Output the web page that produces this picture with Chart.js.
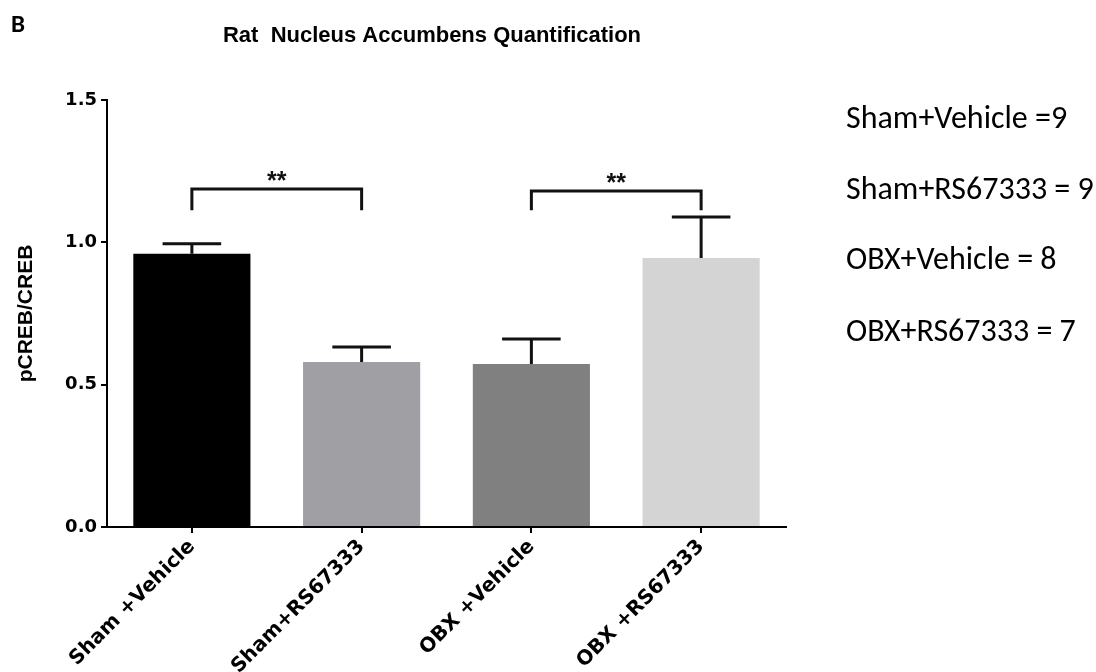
<!DOCTYPE html>
<html>
<head>
<meta charset="utf-8">
<title>Rat Nucleus Accumbens Quantification</title>
<script src="https://cdn.jsdelivr.net/npm/chart.js@4.4.1/dist/chart.umd.min.js"></script>
<style>
    html, body { margin: 0; padding: 0; background: #fff; overflow: hidden; }
    #wrap { position: relative; width: 1096px; height: 672px; }
    #chartBox { position: absolute; left: 0; top: 0; width: 1096px; height: 672px; }
    .panel { position: absolute; left: 11px; top: 8px; font: bold 25px Carlito, Lato, sans-serif; color: #000; }
    .nlist div { position: absolute; left: 846px; white-space: nowrap; line-height: 1;
                 font: 32px Carlito, Lato, sans-serif; color: #000; transform: translateY(-50%); }
</style>
</head>
<body>
<div id="wrap">
    <div id="chartBox"><canvas id="accumbensChart"></canvas></div>
    <div class="panel">B</div>
    <div class="nlist" id="nList"></div>
</div>
<script>
// data
const groups = ['Sham +Vehicle', 'Sham+RS67333', 'OBX +Vehicle', 'OBX +RS67333'];
const meanRatio = [0.96, 0.58, 0.573, 0.945];
const semRatio = [0.035, 0.052, 0.087, 0.144];
const barColors = ['#000000', '#a09fa4', '#808080', '#d4d4d4'];
const yTicks = [0, 0.5, 1.0, 1.5];
const sigPairs = [[0, 1], [2, 3]];
const sigTop = [1.187, 1.18];
const sigLeg = [1.113, 1.113];
const sigLabels = ['**', '**'];
const groupN = ['Sham+Vehicle =9', 'Sham+RS67333 = 9', 'OBX+Vehicle = 8', 'OBX+RS67333 = 7'];
const chartTitle = 'Rat  Nucleus Accumbens Quantification';

document.addEventListener('DOMContentLoaded', function() {
    "use strict";

    // group sizes on the right
    const nList = document.getElementById('nList');
    const nTop = [117, 188, 258, 330];
    groupN.forEach(function(txt, i) {
        const d = document.createElement('div');
        d.textContent = txt;
        d.style.top = nTop[i] + 'px';
        nList.appendChild(d);
    });

    // title over the plot
    const headerTitle = {
        id: 'headerTitle',
        afterDraw(chart) {
            const ctx = chart.ctx;
            ctx.save();
            ctx.font = 'bold 22px "Liberation Sans", Arial, sans-serif';
            ctx.fillStyle = '#000';
            ctx.textAlign = 'center';
            ctx.textBaseline = 'middle';
            ctx.fillText(chartTitle, 432, 36);
            ctx.restore();
        }
    };

    // upper SEM bars
    const errorBars = {
        id: 'errorBars',
        afterDatasetsDraw(chart) {
            const ctx = chart.ctx;
            const y = chart.scales.y;
            const meta = chart.getDatasetMeta(0);
            ctx.save();
            ctx.strokeStyle = '#111';
            ctx.lineWidth = 3;
            meta.data.forEach(function(bar, i) {
                const yMean = y.getPixelForValue(meanRatio[i]);
                const yTop = y.getPixelForValue(meanRatio[i] + semRatio[i]);
                const half = bar.width * 0.25;
                ctx.beginPath();
                ctx.moveTo(bar.x, yMean);
                ctx.lineTo(bar.x, yTop);
                ctx.moveTo(bar.x - half, yTop);
                ctx.lineTo(bar.x + half, yTop);
                ctx.stroke();
            });
            ctx.restore();
        }
    };

    // significance brackets
    const sigBrackets = {
        id: 'sigBrackets',
        afterDatasetsDraw(chart) {
            const ctx = chart.ctx;
            const y = chart.scales.y;
            const meta = chart.getDatasetMeta(0);
            ctx.save();
            ctx.strokeStyle = '#111';
            ctx.lineWidth = 3;
            ctx.lineCap = 'butt';
            sigPairs.forEach(function(pair, k) {
                const x1 = meta.data[pair[0]].x;
                const x2 = meta.data[pair[1]].x;
                const yT = y.getPixelForValue(sigTop[k]);
                const yL = y.getPixelForValue(sigLeg[k]);
                ctx.beginPath();
                ctx.moveTo(x1, yL);
                ctx.lineTo(x1, yT);
                ctx.lineTo(x2, yT);
                ctx.lineTo(x2, yL);
                ctx.stroke();
                ctx.fillStyle = '#111';
                ctx.font = 'bold 25px "Liberation Sans", Arial, sans-serif';
                ctx.textAlign = 'center';
                ctx.textBaseline = 'bottom';
                ctx.fillText(sigLabels[k], (x1 + x2) / 2, yT + 6);
            });
            ctx.restore();
        }
    };

    const ctxEl = document.getElementById('accumbensChart');
    new Chart(ctxEl, {
        type: 'bar',
        data: {
            labels: groups,
            datasets: [{
                data: meanRatio,
                backgroundColor: barColors,
                borderWidth: 0,
                barPercentage: 0.69,
                categoryPercentage: 1.0
            }]
        },
        options: {
            responsive: true,
            maintainAspectRatio: false,
            animation: false,
            layout: {
                padding: { left: 0, right: 310, top: 100, bottom: 0 }
            },
            plugins: {
                legend: { display: false },
                tooltip: { enabled: false }
            },
            scales: {
                x: {
                    grid: {
                        offset: false,
                        drawOnChartArea: false,
                        tickLength: 6,
                        lineWidth: 2,
                        color: '#000'
                    },
                    border: { color: '#000', width: 2 },
                    ticks: {
                        color: '#000',
                        font: { family: '"DejaVu Sans", sans-serif', weight: 'bold', size: 20 },
                        minRotation: 45,
                        maxRotation: 45,
                        padding: 2
                    },
                    afterFit(scale) { scale.height = 145; }
                },
                y: {
                    min: 0,
                    max: 1.5,
                    afterBuildTicks(scale) {
                        scale.ticks = yTicks.map(v => ({ value: v }));
                    },
                    grid: {
                        drawOnChartArea: false,
                        tickLength: 6,
                        lineWidth: 2,
                        color: '#000'
                    },
                    border: { color: '#000', width: 2 },
                    ticks: {
                        color: '#000',
                        padding: 4,
                        font: { family: '"DejaVu Sans", sans-serif', weight: 'bold', size: 18 },
                        callback: function(value) {
                            return Number(value).toFixed(1);
                        }
                    },
                    title: {
                        display: true,
                        text: 'pCREB/CREB',
                        color: '#000',
                        font: { family: '"Liberation Sans", Arial, sans-serif', weight: 'bold', size: 21 },
                        padding: { top: 14, bottom: 0 }
                    },
                    afterFit(scale) { scale.width = 107; }
                }
            }
        },
        plugins: [headerTitle, errorBars, sigBrackets]
    });
});
</script>
</body>
</html>
